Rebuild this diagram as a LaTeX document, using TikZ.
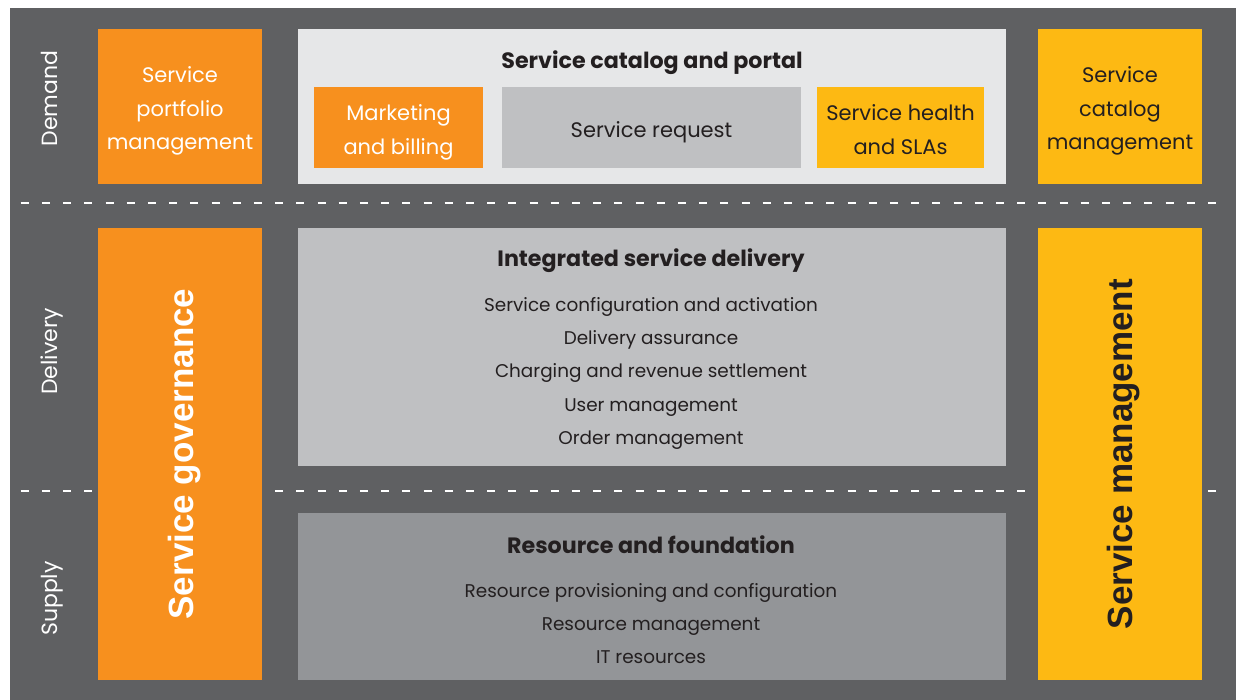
\documentclass[tikz,border=0pt]{standalone}
\usepackage{fontspec}
\setmainfont{Poppins}
\newfontfamily\pillarfont{Liberation Sans}
\definecolor{bgdark}{HTML}{5F6062}
\definecolor{orng}{HTML}{F7901E}
\definecolor{yell}{HTML}{FDB913}
\definecolor{paleg}{HTML}{E6E7E8}
\definecolor{midg}{HTML}{BFC0C2}
\definecolor{darkg}{HTML}{939598}
\definecolor{ink}{HTML}{231F20}
\tikzset{
  blk/.style={anchor=north west, inner sep=0pt, outer sep=0pt, draw=none},
  sep/.style={draw=white, line width=2.6pt, dash pattern=on 8pt off 13.2pt},
  item/.style={anchor=base, inner sep=0pt, text=ink, font=\fontsize{18.4pt}{22pt}\selectfont},
  boxtxt/.style={anchor=base, inner sep=0pt, font=\fontsize{21pt}{25pt}\selectfont},
  head/.style={anchor=base, inner sep=0pt, text=ink, font=\fontsize{22.2pt}{26pt}\selectfont\bfseries},
  lane/.style={anchor=base, inner sep=0pt, rotate=90, text=white, font=\fontsize{22pt}{26pt}\selectfont},
  pillar/.style={anchor=base, inner sep=0pt, rotate=90, font=\fontsize{35pt}{40pt}\selectfont\pillarfont\bfseries},
}
\begin{document}
\begin{tikzpicture}[x=1pt,y=-1pt]
\useasboundingbox (0,0) rectangle (1236,700);
% backdrop
\node[blk, fill=bgdark, minimum width=1226pt, minimum height=692pt] (bg) at (10,8) {};

% row separators
\coordinate (s1a) at (20.7,203);
\coordinate (s1b) at (1217,203);
\coordinate (s2a) at (20.7,491);
\coordinate (s2b) at (1217,491);
\draw[sep] (s1a) -- (s1b);
\draw[sep] (s2a) -- (s2b);

% lane labels
\node[lane] (ldemand) at (57,98.5) {Demand};
\node[lane] (ldelivery) at (57,351.5) {Delivery};
\node[lane] (lsupply) at (57,598.5) {Supply};

% left column
\node[blk, fill=orng, minimum width=164pt, minimum height=155pt] (portfolio) at (98,29) {};
\node[boxtxt, text=white] (pf1) at (180,83) {Service};
\node[boxtxt, text=white] (pf2) at (180,116.5) {portfolio};
\node[boxtxt, text=white] (pf3) at (180,150) {management};

\node[blk, fill=orng, minimum width=164pt, minimum height=452pt] (gov) at (98,228) {};
\node[pillar, text=white] (govt) at (193.5,454) {Service governance};

% right column
\node[blk, fill=yell, minimum width=164pt, minimum height=155pt] (catmgmt) at (1038,29) {};
\node[boxtxt, text=ink] (cm1) at (1120,83) {Service};
\node[boxtxt, text=ink] (cm2) at (1120,116.5) {catalog};
\node[boxtxt, text=ink] (cm3) at (1120,150) {management};

\node[blk, fill=yell, minimum width=164pt, minimum height=452pt] (svcmgmt) at (1038,228) {};
\node[pillar, text=ink] (smt) at (1132.5,454) {Service management};

% catalog and portal
\node[blk, fill=paleg, minimum width=708pt, minimum height=155pt] (portal) at (298,29) {};
\node[head] (portalh) at (652,69) {Service catalog and portal};
\node[blk, fill=orng, minimum width=169pt, minimum height=81pt] (mkt) at (314,87) {};
\node[boxtxt, text=white] (mkt1) at (398.5,121) {Marketing};
\node[boxtxt, text=white] (mkt2) at (398.5,155) {and billing};
\node[blk, fill=midg, minimum width=299pt, minimum height=81pt] (req) at (502,87) {};
\node[boxtxt, text=ink] (req1) at (651.5,138) {Service request};
\node[blk, fill=yell, minimum width=167pt, minimum height=81pt] (health) at (817,87) {};
\node[boxtxt, text=ink] (hl1) at (900.5,120.5) {Service health};
\node[boxtxt, text=ink] (hl2) at (900.5,155) {and SLAs};

% integrated delivery
\node[blk, fill=midg, minimum width=708pt, minimum height=238pt] (deliv) at (298,228) {};
\node[head] (delivh) at (651,267) {Integrated service delivery};
\node[item] (d1) at (651,311.5) {Service configuration and activation};
\node[item] (d2) at (651,344.5) {Delivery assurance};
\node[item] (d3) at (651,377.5) {Charging and revenue settlement};
\node[item] (d4) at (651,411) {User management};
\node[item] (d5) at (651,444) {Order management};

% resource and foundation
\node[blk, fill=darkg, minimum width=708pt, minimum height=167pt] (res) at (298,513) {};
\node[head] (resh) at (651,553) {Resource and foundation};
\node[item] (r1) at (651,597) {Resource provisioning and configuration};
\node[item] (r2) at (651,630) {Resource management};
\node[item] (r3) at (651,663.5) {IT resources};
\end{tikzpicture}
\end{document}
